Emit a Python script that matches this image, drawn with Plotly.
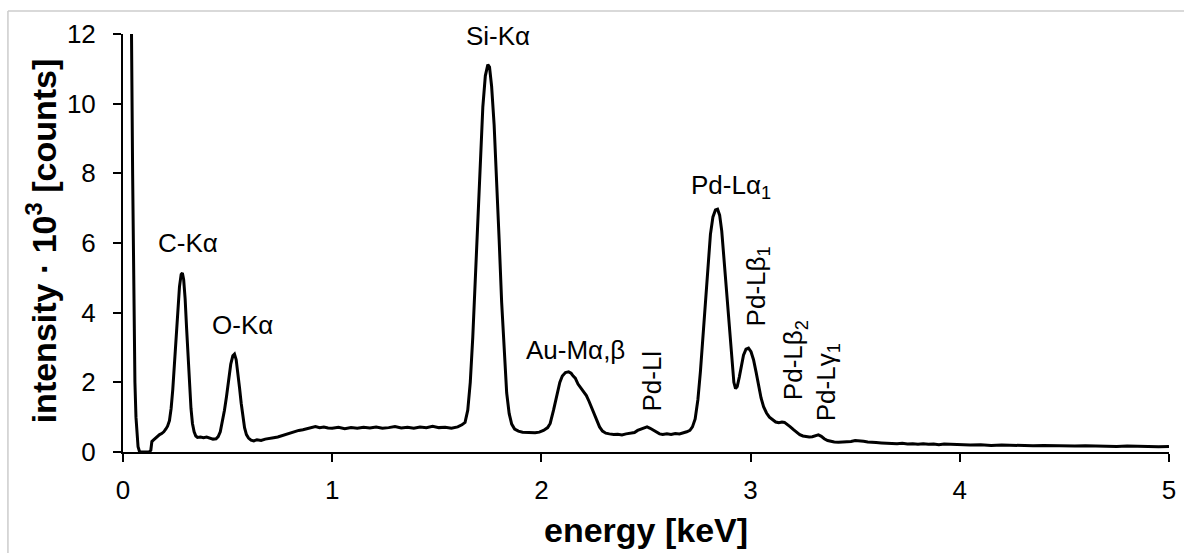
import plotly.graph_objects as go

# ---- data (energy in keV, intensity in 10^3 counts) ----
energy = [
    0.030, 0.040, 0.046, 0.052, 0.057, 0.062, 0.067, 0.072, 0.078, 0.082,
    0.095, 0.110, 0.125, 0.133, 0.138, 0.145, 0.155, 0.165, 0.175, 0.185,
    0.195, 0.205, 0.213, 0.222, 0.230, 0.238, 0.246, 0.254, 0.262, 0.270,
    0.278, 0.284, 0.290, 0.297, 0.304, 0.311, 0.318, 0.325, 0.332, 0.340,
    0.348, 0.356, 0.370, 0.385, 0.400, 0.415, 0.430, 0.445, 0.455, 0.465,
    0.475, 0.485, 0.495, 0.505, 0.515, 0.525, 0.533, 0.541, 0.549, 0.557,
    0.565, 0.573, 0.581, 0.590, 0.600, 0.612, 0.625, 0.640, 0.660, 0.680,
    0.700, 0.720, 0.740, 0.760, 0.780, 0.800, 0.820, 0.840, 0.860, 0.880,
    0.900, 0.920, 0.940, 0.960, 0.980, 1.000, 1.030, 1.060, 1.090, 1.120,
    1.150, 1.180, 1.210, 1.240, 1.270, 1.300, 1.330, 1.360, 1.390, 1.420,
    1.450, 1.480, 1.510, 1.540, 1.570, 1.600, 1.620, 1.635, 1.648, 1.660,
    1.672, 1.684, 1.696, 1.708, 1.720, 1.732, 1.744, 1.752, 1.762, 1.774,
    1.786, 1.798, 1.810, 1.822, 1.834, 1.846, 1.858, 1.872, 1.890, 1.910,
    1.930, 1.950, 1.970, 1.990, 2.010, 2.030, 2.042, 2.058, 2.074, 2.088,
    2.100, 2.115, 2.130, 2.142, 2.152, 2.162, 2.175, 2.190, 2.205, 2.215,
    2.228, 2.240, 2.252, 2.265, 2.278, 2.292, 2.308, 2.325, 2.345, 2.365,
    2.385, 2.405, 2.425, 2.445, 2.460, 2.475, 2.490, 2.505, 2.520, 2.535,
    2.550, 2.565, 2.580, 2.600, 2.620, 2.640, 2.660, 2.680, 2.695, 2.710,
    2.722, 2.735, 2.748, 2.760, 2.772, 2.784, 2.796, 2.808, 2.820, 2.832,
    2.842, 2.852, 2.862, 2.872, 2.882, 2.892, 2.902, 2.912, 2.920, 2.928,
    2.936, 2.946, 2.956, 2.966, 2.978, 2.990, 3.002, 3.014, 3.026, 3.038,
    3.050, 3.062, 3.076, 3.090, 3.105, 3.120, 3.135, 3.150, 3.162, 3.175,
    3.190, 3.205, 3.220, 3.235, 3.250, 3.265, 3.280, 3.295, 3.310, 3.324,
    3.338, 3.352, 3.368, 3.385, 3.400, 3.420, 3.440, 3.460, 3.480, 3.500,
    3.520, 3.540, 3.560, 3.580, 3.600, 3.625, 3.650, 3.675, 3.700, 3.725,
    3.750, 3.775, 3.800, 3.825, 3.850, 3.875, 3.900, 3.925, 3.950, 3.975,
    4.000, 4.050, 4.100, 4.150, 4.200, 4.250, 4.300, 4.350, 4.400, 4.450,
    4.500, 4.550, 4.600, 4.650, 4.700, 4.750, 4.800, 4.850, 4.900, 4.950,
    5.000,
]
intensity = [
    14.0, 12.5, 8.0, 4.0, 2.0, 1.0, 0.45, 0.15, 0.03, 0.0,
    0.0, 0.0, 0.0, 0.05, 0.30, 0.34, 0.40, 0.46, 0.50, 0.53,
    0.58, 0.66, 0.74, 0.90, 1.25, 1.80, 2.50, 3.30, 4.10, 4.75,
    5.10, 5.14, 4.95, 4.40, 3.55, 2.70, 1.90, 1.25, 0.82, 0.58,
    0.46, 0.42, 0.43, 0.41, 0.43, 0.40, 0.37, 0.38, 0.44, 0.58,
    0.85, 1.20, 1.60, 2.10, 2.52, 2.76, 2.81, 2.65, 2.30, 1.85,
    1.40, 1.00, 0.70, 0.50, 0.40, 0.34, 0.32, 0.35, 0.33, 0.37,
    0.38, 0.41, 0.43, 0.47, 0.50, 0.55, 0.58, 0.62, 0.64, 0.67,
    0.70, 0.73, 0.70, 0.72, 0.69, 0.68, 0.71, 0.67, 0.70, 0.68,
    0.71, 0.69, 0.72, 0.68, 0.70, 0.73, 0.69, 0.71, 0.68, 0.72,
    0.70, 0.74, 0.70, 0.71, 0.68, 0.72, 0.78, 0.85, 1.20, 2.00,
    3.30, 4.90, 6.70, 8.50, 9.90, 10.80, 11.12, 11.05, 10.50, 9.40,
    7.90, 6.10, 4.30, 2.80, 1.70, 1.10, 0.80, 0.66, 0.60, 0.57,
    0.56, 0.54, 0.55, 0.57, 0.62, 0.70, 0.82, 1.20, 1.68, 2.00,
    2.18, 2.28, 2.30, 2.26, 2.18, 2.12, 1.95, 1.82, 1.72, 1.62,
    1.45, 1.28, 1.08, 0.88, 0.72, 0.60, 0.54, 0.52, 0.50, 0.51,
    0.49, 0.52, 0.53, 0.56, 0.62, 0.66, 0.70, 0.72, 0.68, 0.62,
    0.56, 0.52, 0.50, 0.52, 0.50, 0.53, 0.52, 0.55, 0.58, 0.62,
    0.72, 0.95, 1.50, 2.30, 3.30, 4.40, 5.45, 6.25, 6.75, 6.95,
    6.97, 6.80, 6.35, 5.60, 4.70, 3.90, 3.10, 2.45, 2.00, 1.82,
    1.88, 2.15, 2.50, 2.78, 2.95, 2.98, 2.88, 2.65, 2.30, 1.90,
    1.55, 1.30, 1.12, 1.00, 0.92, 0.86, 0.84, 0.86, 0.85, 0.80,
    0.72, 0.64, 0.57, 0.50, 0.46, 0.44, 0.43, 0.44, 0.47, 0.49,
    0.45, 0.38, 0.33, 0.30, 0.29, 0.28, 0.29, 0.28, 0.30, 0.33,
    0.33, 0.31, 0.29, 0.27, 0.27, 0.26, 0.25, 0.26, 0.24, 0.25,
    0.23, 0.24, 0.22, 0.24, 0.22, 0.23, 0.21, 0.23, 0.22, 0.21,
    0.22, 0.20, 0.21, 0.19, 0.20, 0.19, 0.20, 0.18, 0.19, 0.18,
    0.19, 0.17, 0.18, 0.17, 0.18, 0.16, 0.17, 0.16, 0.17, 0.15,
    0.16,
]

# peak labels: text, energy, intensity, rotation
label_text = ["C-Kα", "O-Kα", "Si-Kα", "Au-Mα,β", "Pd-Lα<sub>1</sub>",
              "Pd-Ll", "Pd-Lβ<sub>1</sub>", "Pd-Lβ<sub>2</sub>", "Pd-Lγ<sub>1</sub>"]
label_x = [0.313, 0.570, 1.793, 2.164, 2.908, 2.530, 3.033, 3.208, 3.365]
label_y = [6.01, 3.66, 11.93, 2.92, 7.61, 2.03, 4.74, 2.64, 2.00]
label_angle = [0, 0, 0, 0, 0, -90, -90, -90, -90]

x_ticks = [0, 1, 2, 3, 4, 5]
y_ticks = [0, 2, 4, 6, 8, 10, 12]

FONT = "Liberation Sans, Arial, sans-serif"

fig = go.Figure()
fig.add_trace(go.Scatter(x=energy, y=intensity, mode="lines",
                         line=dict(color="black", width=3), showlegend=False,
                         hoverinfo="skip"))

for t, x, y, a in zip(label_text, label_x, label_y, label_angle):
    fig.add_annotation(x=x, y=y, xref="x", yref="y", text=t, showarrow=False,
                       textangle=a, xanchor="center", yanchor="middle",
                       font=dict(family=FONT, size=26, color="black"))

# axis titles
fig.add_annotation(x=0.5, y=-0.186, xref="paper", yref="paper",
                   text="<b>energy [keV]</b>", showarrow=False,
                   xanchor="center", yanchor="middle",
                   font=dict(family=FONT, size=34, color="black"))
fig.add_annotation(x=-0.078, y=0.505, xref="paper", yref="paper",
                   text="<b>intensity · 10<sup>3</sup> [counts]</b>", showarrow=False,
                   textangle=-90, xanchor="center", yanchor="middle",
                   font=dict(family=FONT, size=34, color="black"))

# light grey frame (top and left edge of the picture)
fig.add_shape(type="line", xref="paper", yref="paper", x0=-0.110, x1=1.2,
              y0=1.055, y1=1.055, line=dict(color="#cccccc", width=1.5))
fig.add_shape(type="line", xref="paper", yref="paper", x0=-0.110, x1=-0.110,
              y0=1.055, y1=-0.4, line=dict(color="#cccccc", width=1.5))

axis_common = dict(showgrid=False, zeroline=False, showline=True, linecolor="black",
                   linewidth=2, ticks="outside", ticklen=8, tickwidth=2,
                   tickcolor="black", tickfont=dict(family=FONT, size=26, color="black"))

fig.update_xaxes(range=[0, 5], tickvals=x_ticks, ticklabelstandoff=6, **axis_common)
fig.update_yaxes(range=[0, 12], tickvals=y_ticks, ticklabelstandoff=12, **axis_common)

fig.update_layout(width=1184, height=553, margin=dict(l=123, r=8, t=34, b=101),
                  paper_bgcolor="white", plot_bgcolor="white",
                  font=dict(family=FONT, color="black"))

fig.write_html("out.html")
